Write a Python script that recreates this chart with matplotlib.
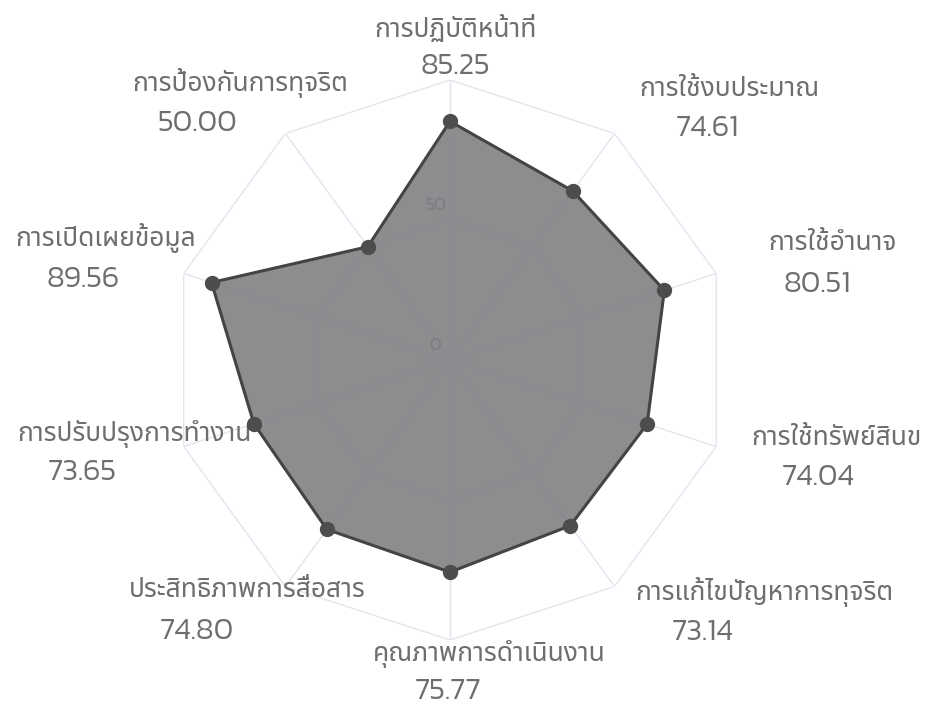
import matplotlib
matplotlib.use('Agg')
import matplotlib.pyplot as plt
from numpy import pi

# data
names=['การปฏิบัติหน้าที่','การใช้งบประมาณ','การใช้อำนาจ','การใช้ทรัพย์สินข',
       'การแก้ไขปัญหาการทุจริต','คุณภาพการดำเนินงาน','ประสิทธิภาพการสื่อสาร',
       'การปรับปรุงการทำงาน','การเปิดเผยข้อมูล','การป้องกันการทุจริต']
scores=[85.25,74.61,80.51,74.04,73.14,75.77,74.80,73.65,89.56,50.00]
rings=[50,100]
tick_vals=[0,50]
tick_labels=['0','50']

# layout: label offsets (pixels) from the outer vertex of each axis
name_off=[(5,50),(115,45),(116,30),(120,9),(150,-6),(39,-14),(-38,-3),(-49,13),(-78,35),(-45,50)]
val_off =[(5,14),(93,5),(101,-11),(102,-31),(88,-46),(-2,-52),(-89,-45),(-101,-26),(-101,-6),(-88,10)]

plt.rcParams['font.family']=['Kanit','DejaVu Sans']
namefont=['Noto Sans Thai','Kanit','DejaVu Sans']
txtc='#6e6e6e'
gridc='#e2e5ee'

n=len(names)
theta=[2*pi*i/n for i in range(n)]
th_closed=theta+[theta[0]]

fig=plt.figure(figsize=(9.28,7.07),dpi=100)
fig.patch.set_facecolor('white')
ax=fig.add_axes([0.1832,0.0948,0.6034,0.792],projection='polar')
ax.set_theta_offset(pi/2)
ax.set_theta_direction(-1)
ax.set_ylim(0,100)
ax.grid(False)
ax.set_xticks([])
ax.set_yticks([])
ax.spines['polar'].set_visible(False)
ax.set_facecolor('none')

for r in rings:
    ax.plot(th_closed,[r]*(n+1),color=gridc,lw=1.0,zorder=1)
for t in theta:
    ax.plot([t,t],[0,100],color=gridc,lw=1.0,zorder=1)

sc=scores+[scores[0]]
ax.fill(th_closed,sc,facecolor='#838386',alpha=0.92,zorder=2)
ax.plot(th_closed,sc,color='#444444',lw=2.2,zorder=3)
ax.plot(theta,scores,'o',ms=10,color='#4d4d4d',zorder=4)

# faint radial tick labels under the area
for r,lab in zip(tick_vals,tick_labels):
    ax.annotate(lab,xy=(0,r),xytext=(-15,15),textcoords='offset pixels',ha='center',va='center',
                fontsize=13,color='#7b7b7f',fontweight=300,zorder=5)

for i in range(n):
    ax.annotate(names[i],xy=(theta[i],100),xytext=name_off[i],textcoords='offset pixels',
                ha='center',va='center',fontsize=19,color=txtc,family=namefont,fontweight=300,
                annotation_clip=False)
    ax.annotate('%.2f'%scores[i],xy=(theta[i],100),xytext=val_off[i],textcoords='offset pixels',
                ha='center',va='center',fontsize=22,color=txtc,fontweight=300,annotation_clip=False)

fig.savefig('out.png',dpi=100)
